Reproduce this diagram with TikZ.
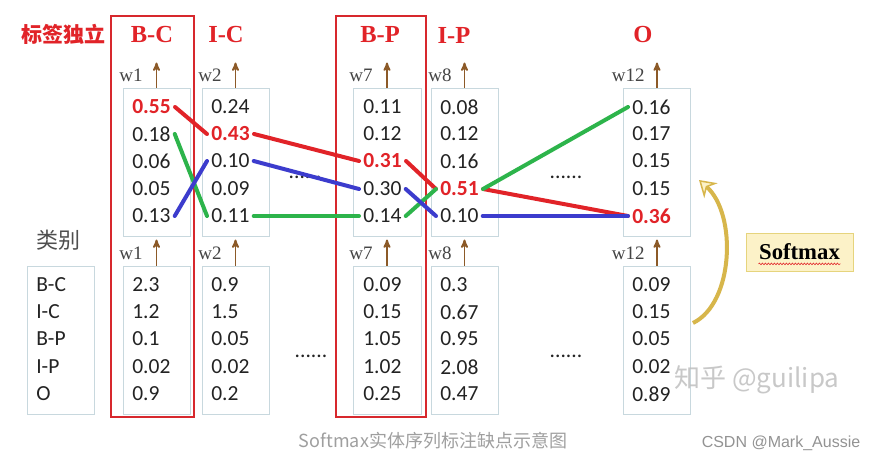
\documentclass[tikz,border=0pt]{standalone}
\usepackage{fontspec}
\usepackage{tikz}
\usetikzlibrary{arrows,arrows.meta,decorations.pathmorphing}
\newfontfamily\numfont{Carlito}
\newfontfamily\timesfont{Liberation Serif}
\newfontfamily\capfont{Liberation Sans}
\newfontfamily\cjk{Noto Sans CJK SC}
\definecolor{line_red}{RGB}{225,35,40}
\definecolor{line_green}{RGB}{45,180,75}
\definecolor{line_blue}{RGB}{60,60,205}
\definecolor{frame_red}{RGB}{215,40,45}
\definecolor{box_gray}{RGB}{200,216,222}
\definecolor{arrow_brown}{RGB}{140,90,40}
\definecolor{soft_fill}{RGB}{252,242,200}
\definecolor{soft_edge}{RGB}{230,212,125}
\definecolor{gold_arrow}{RGB}{215,182,75}
\definecolor{text_gray}{RGB}{35,35,35}

\begin{document}
\begin{tikzpicture}[x=1pt,y=-1pt,semithick,>=stealth']
    \tikzstyle{val}=[anchor=west,inner xsep=4pt,inner ysep=1pt,text=text_gray,font=\numfont\fontsize{21.5}{24}\selectfont]
    \tikzstyle{hot}=[style=val,text=line_red,font=\numfont\bfseries\fontsize{21.5}{24}\selectfont]
    \tikzstyle{cell}=[draw=box_gray,line width=1pt,minimum width=67pt,minimum height=148pt,inner sep=0pt]
    \tikzstyle{redframe}=[draw=frame_red,line width=2.5pt,minimum height=401pt,inner sep=0pt]
    \tikzstyle{title}=[text=line_red,font=\timesfont\bfseries\fontsize{24.5}{28}\selectfont]
    \tikzstyle{wlab}=[anchor=east,inner sep=1pt,text=text_gray!85,font=\timesfont\fontsize{19}{20}\selectfont]
    \tikzstyle{warrow}=[->,arrow_brown,line width=1.8pt]
    \tikzstyle{dots}=[inner sep=0pt,text=text_gray,font=\numfont\fontsize{21.5}{24}\selectfont]
    \tikzstyle{redline}=[line_red,line width=4pt,line cap=round]
    \tikzstyle{greenline}=[line_green,line width=4pt,line cap=round]
    \tikzstyle{blueline}=[line_blue,line width=4pt,line cap=round]
    \tikzstyle{softbox}=[draw=soft_edge,fill=soft_fill,line width=1pt,minimum width=107pt,minimum height=38pt,inner xsep=13pt,font=\timesfont\bfseries\fontsize{22.7}{26}\selectfont]

    \fill[white] (0,0) rectangle (876,463);
    \useasboundingbox (0,0) rectangle (876,463);

    % red frames and titles
    \node[redframe,minimum width=83pt] (bcF) at (152.5,216.5) {};
    \node[redframe,minimum width=90pt] (bpF) at (381,216.5) {};
    \node[text=line_red,font=\cjk\bfseries\fontsize{21}{24}\selectfont] (tag) at (63,34) {标签独立};
    \node[title] (bcT) at (152,35) {B-C};
    \node[title] (icT) at (226,35) {I-C};
    \node[title] (bpT) at (380,35) {B-P};
    \node[title] (ipT) at (454,35) {I-P};
    \node[title] (oT)  at (643,35) {O};
    \node[text=text_gray!80,font=\cjk\fontsize{22}{24}\selectfont] (cls) at (58,240) {类别};

    % boxes
    \node[cell] (bcU) at (156.5,162) {};
    \node[cell] (icU) at (235.5,162) {};
    \node[cell,minimum width=68pt] (bpU) at (387,162) {};
    \node[cell] (ipU) at (464.5,162) {};
    \node[cell] (oU)  at (657,162) {};
    \node[cell] (catL) at (60.5,340) {};
    \node[cell] (bcL) at (156.5,340) {};
    \node[cell] (icL) at (235.5,340) {};
    \node[cell,minimum width=68pt] (bpL) at (387,340) {};
    \node[cell] (ipL) at (464.5,340) {};
    \node[cell] (oL)  at (657,340) {};

    % weights
    \node[wlab] (bcw)  at (144,75) {w1};   \draw[warrow] (bcU.north) -- +(0,-25);
    \node[wlab] (icw)  at (223,75) {w2};   \draw[warrow] (icU.north) -- +(0,-25);
    \node[wlab] (bpw)  at (374,75) {w7};   \draw[warrow] (bpU.north) -- +(0,-25);
    \node[wlab] (ipw)  at (453,75) {w8};   \draw[warrow] (ipU.north) -- +(0,-25);
    \node[wlab] (ow)   at (646,75) {w12};  \draw[warrow] (oU.north) -- +(0,-25);
    \node[wlab] (bcwl) at (144,253) {w1};  \draw[warrow] (bcL.north) -- +(0,-26);
    \node[wlab] (icwl) at (223,253) {w2};  \draw[warrow] (icL.north) -- +(0,-26);
    \node[wlab] (bpwl) at (374,253) {w7};  \draw[warrow] (bpL.north) -- +(0,-26);
    \node[wlab] (ipwl) at (453,253) {w8};  \draw[warrow] (ipL.north) -- +(0,-26);
    \node[wlab] (owl)  at (646,253) {w12}; \draw[warrow] (oL.north) -- +(0,-26);

    % upper values
    \node[hot] (bcu1) at (128,107) {0.55};
    \node[val] (bcu2) at (128,134) {0.18};
    \node[val] (bcu3) at (128,161) {0.06};
    \node[val] (bcu4) at (128,189) {0.05};
    \node[val] (bcu5) at (128,216) {0.13};
    \node[val] (icu1) at (207,107) {0.24};
    \node[hot] (icu2) at (207,134) {0.43};
    \node[val] (icu3) at (207,161) {0.10};
    \node[val] (icu4) at (207,189) {0.09};
    \node[val] (icu5) at (207,216) {0.11};
    \node[val] (bpu1) at (359,107) {0.11};
    \node[val] (bpu2) at (359,134) {0.12};
    \node[hot] (bpu3) at (359,161) {0.31};
    \node[val] (bpu4) at (359,189) {0.30};
    \node[val] (bpu5) at (359,216) {0.14};
    \node[val] (ipu1) at (436,107) {0.08};
    \node[val] (ipu2) at (436,134) {0.12};
    \node[val] (ipu3) at (436,161) {0.16};
    \node[hot] (ipu4) at (436,189) {0.51};
    \node[val] (ipu5) at (436,216) {0.10};
    \node[val] (ou1)  at (628,107) {0.16};
    \node[val] (ou2)  at (628,134) {0.17};
    \node[val] (ou3)  at (628,161) {0.15};
    \node[val] (ou4)  at (628,189) {0.15};
    \node[hot] (ou5)  at (628,216) {0.36};

    % lower values
    \node[val] (cat1) at (32,285) {B-C};
    \node[val] (cat2) at (32,312) {I-C};
    \node[val] (cat3) at (32,339) {B-P};
    \node[val] (cat4) at (32,367) {I-P};
    \node[val] (cat5) at (32,394) {O};
    \node[val] (bcl1) at (128,285) {2.3};
    \node[val] (bcl2) at (128,312) {1.2};
    \node[val] (bcl3) at (128,339) {0.1};
    \node[val] (bcl4) at (128,367) {0.02};
    \node[val] (bcl5) at (128,394) {0.9};
    \node[val] (icl1) at (207,285) {0.9};
    \node[val] (icl2) at (207,312) {1.5};
    \node[val] (icl3) at (207,339) {0.05};
    \node[val] (icl4) at (207,367) {0.02};
    \node[val] (icl5) at (207,394) {0.2};
    \node[val] (bpl1) at (359,285) {0.09};
    \node[val] (bpl2) at (359,312) {0.15};
    \node[val] (bpl3) at (359,339) {1.05};
    \node[val] (bpl4) at (359,367) {1.02};
    \node[val] (bpl5) at (359,394) {0.25};
    \node[val] (ipl1) at (436,285) {0.3};
    \node[val] (ipl2) at (436,312) {0.67};
    \node[val] (ipl3) at (436,339) {0.95};
    \node[val] (ipl4) at (436,367) {2.08};
    \node[val] (ipl5) at (436,394) {0.47};
    \node[val] (ol1)  at (628,285) {0.09};
    \node[val] (ol2)  at (628,312) {0.15};
    \node[val] (ol3)  at (628,339) {0.05};
    \node[val] (ol4)  at (628,367) {0.02};
    \node[val] (ol5)  at (628,394) {0.89};

    \node[dots] (d1) at (305,177) {......};
    \node[dots] (d2) at (311,356) {......};
    \node[dots] (d3) at (566,177) {......};
    \node[dots] (d4) at (566,356) {......};

    % label paths
    \path (bcu1.east) edge[redline] (icu2.west)
          (icu2.east) edge[redline] (bpu3.west)
          (bpu3.east) edge[redline] (ipu4.west)
          (ipu4.east) edge[redline] (ou5.west);
    \path (bcu2.east) edge[greenline] (icu5.west)
          (icu5.east) edge[greenline] (bpu5.west)
          (bpu5.east) edge[greenline] (ipu4.west)
          (ipu4.east) edge[greenline] (ou1.west);
    \path (bcu5.east) edge[blueline] (icu3.west)
          (icu3.east) edge[blueline] (bpu4.west)
          (bpu4.east) edge[blueline] (ipu5.west)
          (ipu5.east) edge[blueline] (ou5.west);

    % softmax
    \node[softbox] (sm) at (799.5,252) {Softmax};
    \draw[line_red,line width=0.6pt,decorate,decoration={snake,amplitude=0.8pt,segment length=3pt}]
      ([xshift=13pt,yshift=-4pt]sm.base west) -- ([xshift=-13pt,yshift=-4pt]sm.base east);
    \draw[gold_arrow,line width=4pt,-{Stealth[open,fill=soft_fill,length=16pt,width=20pt,line width=1.5pt]}]
      ([xshift=2pt,yshift=17pt]oL.east) .. controls (734,303) and (737,214) .. ([xshift=8pt,yshift=-18pt]oU.east);

    \node[text=gray!50,opacity=0.85,font=\cjk\fontsize{26}{28}\selectfont] (wm) at (757,380) {知乎 @guilipa};
    \node[text=gray!75,font=\cjk\fontsize{18}{20}\selectfont] (cap) at (433,441) {Softmax实体序列标注缺点示意图};
    \node[text=gray!85,font=\capfont\fontsize{16}{18}\selectfont] (csdn) at (781,443) {CSDN @Mark\_Aussie};
\end{tikzpicture}
\end{document}
